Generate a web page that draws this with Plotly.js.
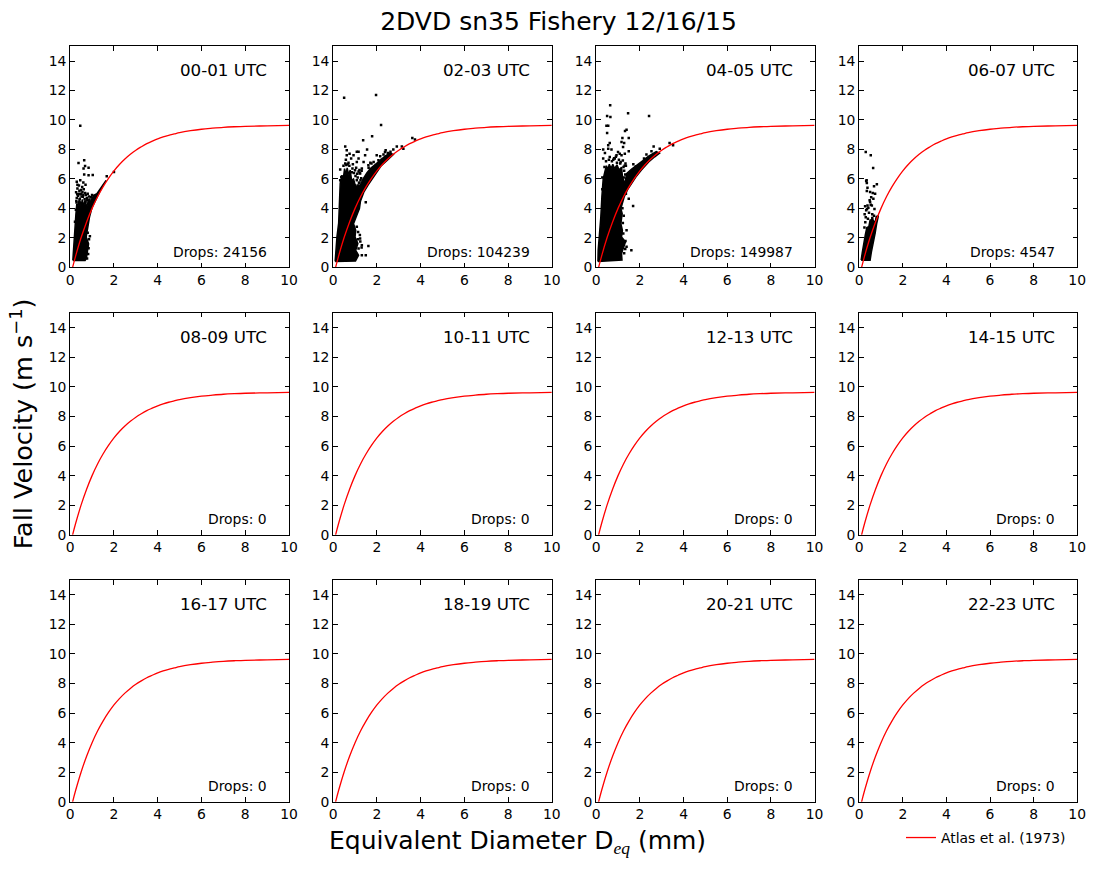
<!DOCTYPE html>
<html>
<head>
<meta charset="utf-8">
<script src="https://cdn.plot.ly/plotly-3.0.1.min.js"></script>
<style>html,body{margin:0;padding:0;background:#fff}</style>
</head>
<body>
<div id="chart" style="width:1094px;height:872px"></div>
<script>
// ---------- data ----------
const hourLabels = ["00-01 UTC","02-03 UTC","04-05 UTC","06-07 UTC","08-09 UTC","10-11 UTC","12-13 UTC","14-15 UTC","16-17 UTC","18-19 UTC","20-21 UTC","22-23 UTC"];
const dropCounts = [24156,104239,149987,4547,0,0,0,0,0,0,0,0];

const curveD = [0.11,0.25,0.5,0.75,1,1.25,1.5,1.75,2,2.25,2.5,2.75,3,3.25,3.5,3.75,4,4.25,4.5,4.75,5,5.5,6,6.5,7,7.5,8,9,10];
const curveV = [0,0.78,2.02,3.08,4,4.79,5.46,6.04,6.55,6.98,7.35,7.67,7.95,8.18,8.39,8.56,8.72,8.85,8.96,9.05,9.14,9.27,9.37,9.44,9.5,9.54,9.57,9.6,9.63];

// outline of the solid (saturated) part of each drop cloud
const cloud00D = [0.12,0.68,0.74,0.78,0.84,0.73,0.79,0.88,1.0,1.14,1.29,1.44,1.57,1.64,1.45,1.22,1.07,0.91,0.84,0.76,0.72,0.68,0.62,0.55,0.5,0.42,0.36,0.3,0.26,0.23,0.19,0.15,0.12];
const cloud00V = [0.47,0.47,0.62,1.05,1.6,2.05,2.73,3.39,4.07,4.52,4.98,5.41,5.75,5.9,5.57,5.0,4.89,4.43,4.6,4.1,4.25,4.55,4.15,4.6,4.15,4.7,4.2,4.3,3.6,2.96,2.2,1.38,0.47];
const cloud02D = [0.09,1.02,1.16,1.03,1.13,1.0,1.03,0.93,1.08,1.2,1.25,1.4,1.6,1.92,2.2,2.5,2.75,2.6,2.37,2.1,1.92,1.7,1.54,1.37,1.25,1.08,1.0,0.93,0.84,0.78,0.7,0.64,0.58,0.52,0.46,0.4,0.32,0.29,0.25,0.17,0.09];
const cloud02V = [0.4,0.42,0.81,1.15,1.61,2.06,2.51,2.96,3.53,3.98,4.5,5.1,5.6,6.3,6.9,7.3,7.65,7.75,7.55,7.2,7.0,6.7,6.4,6.0,5.6,5.45,5.6,6.0,5.9,6.6,6.3,6.75,6.3,6.7,6.0,6.25,5.7,3.9,3.0,2.06,0.4];
const cloud04D = [0.08,1.18,1.16,1.28,1.34,1.16,1.2,1.13,1.19,1.13,1.28,1.43,1.6,1.85,2.07,2.4,2.68,2.9,2.75,2.4,2.14,1.85,1.61,1.39,1.3,1.2,1.16,1.05,0.95,0.84,0.76,0.68,0.6,0.53,0.47,0.4,0.32,0.26,0.21,0.09,0.08];
const cloud04V = [0.4,0.5,0.93,1.38,1.72,2.06,2.51,2.96,3.64,3.98,4.77,5.25,5.65,6.2,6.6,7.15,7.5,7.75,7.85,7.55,7.25,6.95,6.65,6.35,5.6,6.2,6.8,6.6,6.95,6.7,7.0,6.7,7.0,6.6,6.9,6.5,6.0,4.8,3.4,1.15,0.4];
const cloud06D = [0.09,0.5,0.56,0.64,0.73,0.8,0.88,0.78,0.73,0.62,0.5,0.44,0.35,0.28,0.2,0.14,0.09];
const cloud06V = [0.48,0.48,1.05,1.6,2.3,2.95,3.5,3.45,3.0,3.25,3.2,2.75,2.7,2.2,1.6,1.0,0.48];

// individually visible drops outside the solid parts
const drops00D = [0.46,0.38,0.64,0.68,0.84,0.61,0.64,0.84,1.03,2.0,1.67,0.3,0.46,0.7,0.55,0.33,0.27,0.42,0.62,0.8,0.5,0.36,0.72,0.58,0.95,0.3,0.44,0.66,0.52,0.78,0.28,0.88,1.0,0.6,0.4,0.33,0.4,0.5,0.56,0.68,0.76,0.86,0.32,0.29,0.47,0.6,0.7,0.92,0.26,0.22,0.86,0.84,0.8,0.9,0.82,0.77];
const drops00V = [9.6,7.08,7.26,6.88,6.76,6.7,6.3,6.25,6.27,6.47,6.18,5.8,5.9,5.6,5.45,5.35,5.1,5.2,5.3,5.0,5.0,4.85,4.9,4.78,4.75,4.7,4.65,4.62,4.8,4.55,4.5,4.6,4.9,5.75,5.55,5.6,5.0,5.25,5.1,5.05,4.7,4.8,4.95,4.4,4.95,4.9,4.42,4.35,3.9,3.1,1.9,1.3,2.35,2.1,0.9,0.6];
const drops02D = [0.5,1.96,2.19,1.78,1.37,1.55,0.55,0.62,0.62,1.08,1.16,0.93,0.82,1.16,1.46,1.08,1.39,1.61,1.31,0.32,0.37,0.32,1.0,1.23,1.08,1.25,0.97,1.49,1.61,1.31,1.23,1.16,1.31,1.49,1.99,2.15,2.37,2.4,2.75,2.91,3.14,3.21,3.62,3.74,2.07,2.22,0.7,0.9,1.05,1.2,1.7,1.85,0.58,0.75,0.66,0.74,0.88,0.95,1.02,1.12,1.18,0.85,0.92,1.3,1.1,1.28,1.2,1.06,1.12,1.16,1.22,0.6,0.55,0.47,1.13,1.24,1.3,2.5,2.62,2.3,1.75,1.62,1.14,1.22,1.08];
const drops02V = [11.5,11.7,9.66,8.9,8.62,8.0,8.2,7.94,7.6,7.85,7.85,7.6,7.38,7.38,7.6,7.15,7.15,6.92,6.7,6.63,6.13,5.9,6.58,6.36,5.9,5.9,5.57,4.41,1.45,1.49,1.95,1.27,0.81,0.81,7.6,7.53,7.83,7.94,8.0,8.2,8.2,8.05,8.78,8.67,7.26,7.3,7.1,7.0,6.75,6.6,7.1,7.15,7.3,7.7,7.0,6.9,6.7,6.4,6.2,6.1,5.7,6.45,5.6,6.55,6.35,6.05,5.75,5.35,5.55,6.5,6.4,6.95,7.05,6.9,1.9,1.75,1.35,7.75,7.85,7.65,7.05,6.75,2.4,2.2,2.75];
const drops04D = [0.64,0.5,0.65,1.46,2.42,0.47,0.55,0.5,1.39,1.32,1.2,1.49,0.62,0.55,1.16,1.28,1.23,0.55,0.32,0.7,0.4,1.0,1.08,0.93,1.16,0.62,0.32,0.85,1.31,1.49,1.34,2.53,2.63,2.91,3.36,3.52,2.07,2.19,1.92,1.69,1.49,1.39,1.61,1.34,1.23,1.39,1.28,0.28,0.78,1.3,0.45,0.58,0.72,0.82,0.9,1.04,1.12,1.22,1.36,0.38,0.28,0.95,1.1,1.25,1.28,1.33,1.26,1.7,1.82,2.3,1.22,1.26,1.2,1.24,1.36,1.33];
const drops04V = [11.0,10.27,10.2,10.45,10.27,9.6,9.6,9.12,9.34,9.25,8.78,8.78,8.44,8.28,8.5,8.44,8.17,8.05,7.99,7.99,7.76,7.83,7.71,7.6,7.6,7.49,7.38,7.38,7.71,7.87,7.04,7.87,8.2,8.05,8.44,8.28,7.0,7.38,6.86,4.16,4.66,2.51,1.15,1.79,1.6,1.4,0.95,5.3,7.3,6.9,7.2,7.3,7.2,7.4,7.5,7.3,7.15,7.25,6.9,6.8,6.1,7.1,7.05,6.8,6.55,6.3,6.1,7.0,6.85,7.65,3.0,3.5,4.0,2.3,5.0,1.25];
const drops06D = [0.3,0.53,0.64,0.32,0.35,0.81,0.68,0.38,0.35,0.5,0.62,0.73,0.65,0.5,0.38,0.58,0.27,0.42,0.32,0.53,0.45,0.6,0.25,0.7,0.3,0.4,0.34,0.55,0.48,0.36,0.68,0.6,0.28,0.24];
const drops06V = [7.83,7.6,6.74,5.86,5.72,5.63,5.5,5.4,5.18,5.11,5.05,5.0,4.66,4.43,4.2,4.2,4.14,4.05,3.87,4.25,3.7,3.6,3.6,3.95,3.4,3.3,5.9,4.75,4.55,3.95,3.5,3.35,3.05,2.7];

const cloudsD = [cloud00D,cloud02D,cloud04D,cloud06D];
const cloudsV = [cloud00V,cloud02V,cloud04V,cloud06V];
const dropsD = [drops00D,drops02D,drops04D,drops06D];
const dropsV = [drops00V,drops02V,drops04V,drops06V];

const xTicks = [0,2,4,6,8,10];
const yTicks = [0,2,4,6,8,10,12,14];

const titleText = "2DVD sn35 Fishery 12/16/15";
const xTitleText = "Equivalent Diameter D<sub><i><span style=\"font-family:'Liberation Serif'\">eq</span></i></sub> (mm)";
const yTitleText = "Fall Velocity (m s<sup>\u22121</sup>)";
const curveName = "Atlas et al. (1973)";

// ---------- layout ----------
const W = 1094, H = 872;
const colPx = [[70.2,289],[333.2,551.8],[596.2,814.6],[859.2,1077.2]];
const rowPx = [[46.3,267.3],[312.9,534.8],[580,801.8]];
const FONT = "DejaVu Sans";

const traces = [];
const layout = {
  width: W, height: H, autosize: false,
  paper_bgcolor: "#fff", plot_bgcolor: "#fff",
  margin: {l:0,r:0,t:0,b:0},
  font: {family: FONT, color: "#000", size: 13.9},
  title: {text: titleText, font:{family:FONT,size:25,color:"#000"}, x:558.5/W, xanchor:"center", y:1-21/H, yanchor:"middle"},
  showlegend: true,
  legend: {x: 901/W, y: 1-838/H, xanchor:"left", yanchor:"middle", font:{family:FONT,size:13.9,color:"#000"}, bgcolor:"rgba(0,0,0,0)", borderwidth:0, itemwidth:30},
  annotations: [
    {text:xTitleText, xref:"paper", yref:"paper", x:517/W, y:1-842/H, xanchor:"center", yanchor:"middle", showarrow:false, font:{family:FONT,size:25,color:"#000"}}
  ]
};

hourLabels.forEach((label,i)=>{
  const c = i%4, r = Math.floor(i/4), n = i+1;
  const xa = "xaxis"+(n===1?"":n), ya = "yaxis"+(n===1?"":n);
  const xr = "x"+(n===1?"":n), yr = "y"+(n===1?"":n);
  const axis = {
    showgrid:false, zeroline:false, showline:true, mirror:"ticks",
    linecolor:"#000", linewidth:1, ticks:"inside", ticklen:4.5, tickwidth:1, tickcolor:"#000",
    tickfont:{family:FONT,size:13.9,color:"#000"}, fixedrange:true
  };
  layout[xa] = Object.assign({},axis,{anchor:yr, domain:[colPx[c][0]/W,colPx[c][1]/W], range:[0,10], tickmode:"array", tickvals:xTicks, ticktext:xTicks.map(String)});
  layout[ya] = Object.assign({},axis,{anchor:xr, domain:[1-rowPx[r][1]/H,1-rowPx[r][0]/H], range:[0,15], tickmode:"array", tickvals:yTicks, ticktext:yTicks.map(String)});
  if(n===5){
    layout[ya].title = {text:yTitleText, font:{family:FONT,size:25.5,color:"#000"}, standoff:8};
    layout[ya].automargin = false;
  }
  if(i<cloudsD.length){
    traces.push({type:"scatter",mode:"lines",x:cloudsD[i],y:cloudsV[i],xaxis:xr,yaxis:yr,fill:"toself",fillcolor:"#000",line:{color:"#000",width:1.5},showlegend:false,hoverinfo:"skip"});
    traces.push({type:"scatter",mode:"markers",x:dropsD[i],y:dropsV[i],xaxis:xr,yaxis:yr,marker:{symbol:"square",size:2.5,color:"#000",line:{width:0}},showlegend:false,hoverinfo:"x+y"});
  }
  traces.push({type:"scatter",mode:"lines",x:curveD,y:curveV,xaxis:xr,yaxis:yr,line:{color:"#ff0000",width:1.3,shape:"spline"},name:curveName,showlegend:i===11});
  layout.annotations.push({text:label,xref:"paper",yref:"paper",x:(colPx[c][1]-20)/W,y:1-(rowPx[r][0]+24)/H,xanchor:"right",yanchor:"middle",showarrow:false,font:{family:FONT,size:16.7,color:"#000"}});
  layout.annotations.push({text:"Drops: "+dropCounts[i],xref:"paper",yref:"paper",x:(colPx[c][1]-20)/W,y:1-(rowPx[r][1]-15.5)/H,xanchor:"right",yanchor:"middle",showarrow:false,font:{family:FONT,size:13.9,color:"#000"}});
});

Plotly.newPlot("chart",traces,layout,{displayModeBar:false,responsive:false});
</script>
</body>
</html>
